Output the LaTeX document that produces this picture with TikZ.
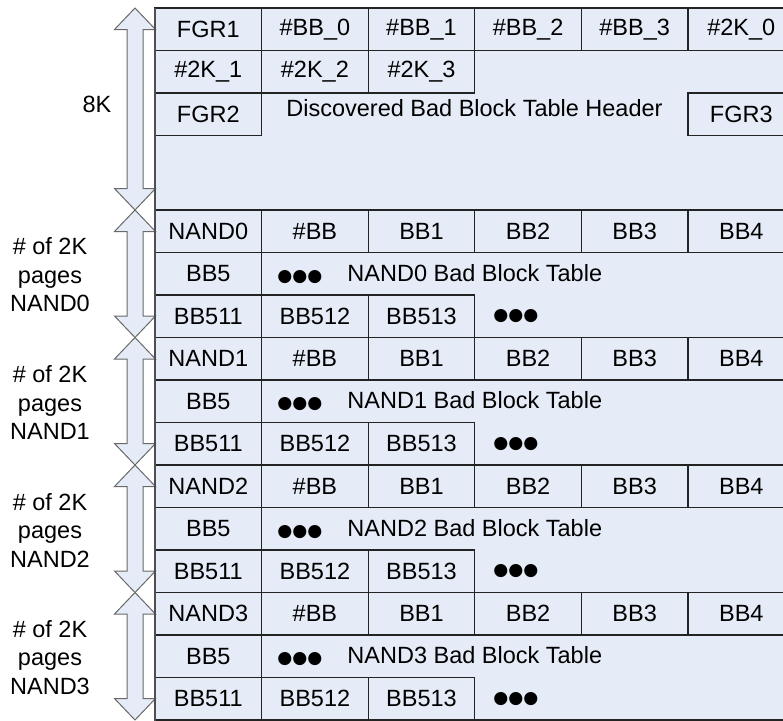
\documentclass[tikz,border=0pt]{standalone}
\usepackage{fontspec}
\setmainfont{Liberation Sans}
\newfontfamily\symfont{DejaVu Sans}
\usetikzlibrary{positioning}
\definecolor{bbtfill}{RGB}{229,236,247}
\definecolor{bbtline}{RGB}{35,35,35}
\definecolor{arrline}{RGB}{105,105,105}
\newcommand{\bbdots}{{\symfont\fontsize{8.6}{8.6}\selectfont ●●●}}
\newcommand{\dblarr}[2]{%
  \draw[dblarrow] (135,#1) -- (155.5,{#1+21.5}) -- (143,{#1+21.5}) --
    (143,{#2-21.5}) -- (155.5,{#2-21.5}) -- (135,#2) --
    (114.5,{#2-21.5}) -- (127,{#2-21.5}) -- (127,{#1+21.5}) --
    (114.5,{#1+21.5}) -- cycle;}
\tikzset{
  txt/.style={font=\fontsize{11.75}{14.25}\selectfont, inner sep=0pt},
  cell/.style={txt, draw=bbtline, fill=bbtfill, line width=0.6pt,
    minimum width=53.3pt, minimum height=21.25pt, outer sep=0pt},
  frame/.style={draw=bbtline, fill=bbtfill, line width=0.6pt},
  dblarrow/.style={draw=arrline, fill=bbtfill, line width=0.5pt},
  sidelbl/.style={txt, align=center}
}

\begin{document}
\begin{tikzpicture}[x=0.5pt,y=-0.5pt]
  \useasboundingbox (0,0) rectangle (783,720);
  \draw[frame] (155,8) rectangle (795,210);
  \foreach \t [count=\i] in {FGR1,\#BB\_0,\#BB\_1,\#BB\_2,\#BB\_3,\#2K\_0}
    \node[cell] (hd\i) at ({155+106.6*(\i-0.5)},29.25) {\t};
  \foreach \t [count=\i] in {\#2K\_1,\#2K\_2,\#2K\_3}
    \node[cell] (tk\i) at ({155+106.6*(\i-0.5)},71.75) {\t};
  \node[cell] (fgr2) at (208.3,114.25) {FGR2};
  \node[cell] (fgr3) at (741.3,114.25) {FGR3};
  \node[txt] (bbthdr) at (474.5,108) {Discovered Bad Block Table Header};
  \dblarr{8}{210}
  \node[txt] (eightk) at (97,104) {8K};
  \foreach \n/\g in {0/210,1/337.5,2/465,3/592.5} {
    \draw[frame] (155,\g) rectangle (795,{\g+127.5});
    \foreach \t [count=\i] in {NAND\n,\#BB,BB1,BB2,BB3,BB4}
      \node[cell] (n\n-r\i) at ({155+106.6*(\i-0.5)},{\g+21.25}) {\t};
    \node[cell] (n\n-bb5) at (208.3,{\g+63.75}) {BB5};
    \node[txt,anchor=west] (n\n-tbl) at (277,{\g+63.75})
      {\bbdots\hspace{12.5pt}NAND\n\ Bad Block Table};
    \foreach \t [count=\i] in {BB511,BB512,BB513}
      \node[cell] (n\n-c\i) at ({155+106.6*(\i-0.5)},{\g+106.25}) {\t};
    \node[txt,anchor=west] (n\n-dots) at (493,{\g+106.25}) {\bbdots};
    \dblarr{\g}{\g+127.5}
    \node[sidelbl] (n\n-lbl) at (50,{\g+65}) {\# of 2K\\pages\\NAND\n};
  }
  \draw[draw=bbtline!80!white, line width=1pt] (155,8) -- (155,721);
\end{tikzpicture}
\end{document}
